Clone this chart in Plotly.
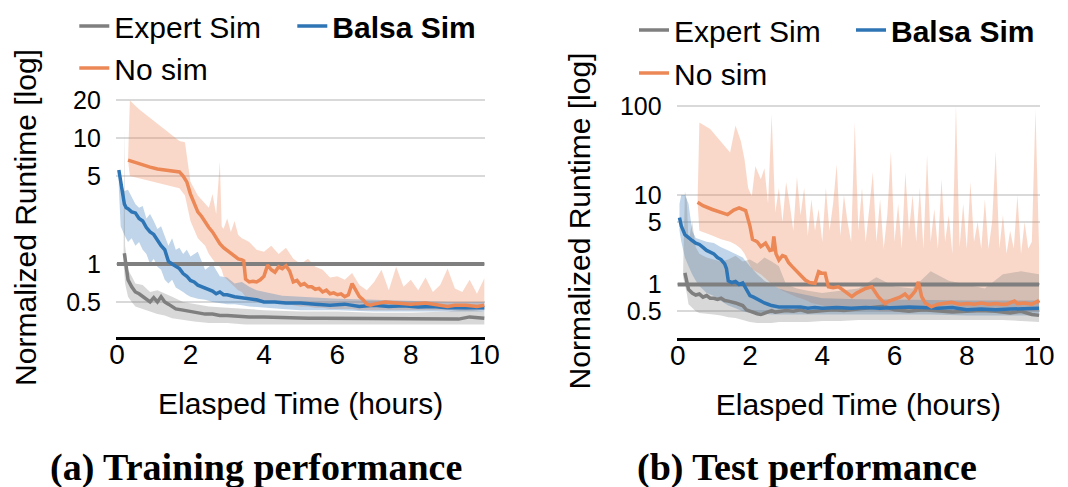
import plotly.graph_objects as go

# ---------------- data ----------------
# Left panel: training performance
L_EXP_X = [0.2, 0.25, 0.3, 0.4, 0.5, 0.6, 0.7, 0.8, 0.9, 1.0, 1.1, 1.2, 1.3, 1.4, 1.5, 1.6, 1.8, 2.0, 2.2, 2.4,
           2.6, 2.8, 3.0, 3.3, 3.6, 4.0, 4.4, 4.8, 5.2, 5.6, 6.0, 6.5, 7.0, 7.5, 8.0, 8.5, 9.0, 9.3, 9.6, 9.8, 10.0]
L_EXP_Y = [1.22, 0.95, 0.75, 0.66, 0.6, 0.58, 0.55, 0.52, 0.5, 0.54, 0.5, 0.55, 0.5, 0.48, 0.46, 0.44, 0.43, 0.42, 0.41, 0.40,
           0.40, 0.39, 0.39, 0.385, 0.38, 0.38, 0.375, 0.37, 0.37, 0.37, 0.37, 0.365, 0.37, 0.365, 0.37, 0.365, 0.37, 0.365, 0.38, 0.375, 0.37]
L_EXP_BX = [0.18, 0.2, 0.22, 0.3, 0.4, 0.5, 0.7, 0.9, 1.1, 1.3, 1.5, 1.8, 2.1, 2.5, 3.0, 3.5, 4.0, 5.0, 6.0, 7.0, 8.0, 9.0, 9.5, 10.0]
L_EXP_UP = [1.3, 12, 1.4, 0.9, 0.8, 0.7, 0.68, 0.6, 0.62, 0.58, 0.55, 0.5, 0.48, 0.46, 0.45, 0.44, 0.43, 0.42, 0.42, 0.41, 0.41, 0.42, 0.44, 0.42]
L_EXP_LO = [1.0, 1.0, 0.7, 0.55, 0.5, 0.46, 0.44, 0.42, 0.4, 0.39, 0.37, 0.36, 0.35, 0.34, 0.34, 0.33, 0.33, 0.33, 0.33, 0.33, 0.33, 0.33, 0.33, 0.33]

L_BAL_X = [0.05, 0.1, 0.15, 0.2, 0.25, 0.3, 0.4, 0.5, 0.6, 0.7, 0.8, 0.9, 1.0, 1.1, 1.2, 1.3, 1.4, 1.5, 1.6, 1.7,
           1.8, 1.9, 2.0, 2.1, 2.2, 2.3, 2.4, 2.5, 2.6, 2.7, 2.8, 2.9, 3.0, 3.2, 3.4, 3.6, 3.8, 4.0, 4.3, 4.6,
           5.0, 5.4, 5.8, 6.2, 6.6, 7.0, 7.4, 7.8, 8.2, 8.6, 9.0, 9.4, 9.7, 10.0]
L_BAL_Y = [5.6, 4.6, 3.6, 3.0, 2.8, 2.75, 2.6, 2.55, 2.3, 2.2, 1.95, 1.8, 1.72, 1.55, 1.4, 1.3, 1.05, 1.0, 0.95, 0.92,
           0.84, 0.8, 0.74, 0.72, 0.68, 0.66, 0.64, 0.62, 0.61, 0.58, 0.6, 0.57, 0.57, 0.55, 0.54, 0.53, 0.52, 0.5, 0.5, 0.49,
           0.49, 0.48, 0.47, 0.48, 0.46, 0.47, 0.46, 0.465, 0.455, 0.46, 0.45, 0.45, 0.45, 0.45]
L_BAL_BX = [0.05, 0.1, 0.2, 0.3, 0.4, 0.5, 0.6, 0.7, 0.8, 0.9, 1.0, 1.1, 1.2, 1.3, 1.4, 1.5, 1.6, 1.7, 1.8, 1.9,
            2.0, 2.2, 2.4, 2.6, 2.8, 3.0, 3.2, 3.4, 3.6, 3.8, 4.0, 4.5, 5.0, 6.0, 7.0, 8.0, 9.0, 10.0]
L_BAL_UP = [5.0, 4.6, 3.8, 3.9, 3.4, 3.0, 2.8, 2.9, 2.3, 2.5, 2.2, 1.9, 2.0, 1.7, 1.4, 1.6, 1.3, 1.35, 1.2, 1.3,
            1.15, 1.25, 0.9, 1.0, 0.8, 0.78, 0.7, 0.72, 0.66, 0.62, 0.6, 0.56, 0.55, 0.53, 0.52, 0.51, 0.5, 0.5]
L_BAL_LO = [4.0, 2.0, 1.7, 1.5, 1.6, 1.4, 1.5, 1.3, 1.2, 1.0, 1.1, 0.95, 0.9, 0.75, 0.7, 0.75, 0.65, 0.62, 0.6, 0.57,
            0.55, 0.53, 0.52, 0.5, 0.49, 0.48, 0.48, 0.47, 0.46, 0.45, 0.45, 0.44, 0.43, 0.43, 0.42, 0.42, 0.42, 0.42]

L_NOS_X = [0.3, 0.5, 0.7, 0.9, 1.1, 1.3, 1.5, 1.7, 1.8, 1.9, 2.0, 2.1, 2.2, 2.3, 2.4, 2.5, 2.6, 2.7, 2.8, 2.9,
           3.0, 3.1, 3.2, 3.3, 3.4, 3.45, 3.5, 3.6, 3.7, 3.8, 3.9, 4.0, 4.1, 4.2, 4.3, 4.4, 4.5, 4.6, 4.7, 4.8,
           4.9, 5.0, 5.1, 5.2, 5.3, 5.4, 5.5, 5.6, 5.7, 5.8, 5.9, 6.0, 6.1, 6.2, 6.3, 6.4, 6.5, 6.6, 6.7, 6.8,
           6.9, 7.0, 7.3, 7.6, 8.0, 8.4, 8.8, 9.0, 9.2, 9.5, 9.8, 10.0]
L_NOS_Y = [6.7, 6.4, 6.1, 5.9, 5.7, 5.6, 5.5, 5.4, 5.0, 4.5, 3.6, 3.0, 2.6, 2.4, 2.15, 1.95, 1.8, 1.6, 1.45, 1.35,
           1.28, 1.2, 1.14, 1.1, 1.08, 1.06, 0.76, 0.72, 0.73, 0.72, 0.75, 0.8, 0.98, 0.9, 0.86, 0.95, 0.92, 0.97, 0.88, 0.72,
           0.74, 0.68, 0.70, 0.66, 0.66, 0.63, 0.64, 0.60, 0.62, 0.58, 0.59, 0.57, 0.58, 0.55, 0.57, 0.70, 0.62, 0.55, 0.52, 0.48,
           0.47, 0.48, 0.5, 0.49, 0.48, 0.49, 0.47, 0.46, 0.47, 0.47, 0.46, 0.47]
L_NOS_BX = [0.3, 0.35, 0.6, 0.9, 1.1, 1.4, 1.7, 1.85, 2.0, 2.2, 2.4, 2.5, 2.6, 2.7, 2.8, 2.85, 2.9, 3.0, 3.1, 3.2,
            3.3, 3.4, 3.5, 3.6, 3.8, 4.0, 4.2, 4.4, 4.6, 4.8, 5.0, 5.2, 5.4, 5.6, 5.8, 6.0, 6.2, 6.4, 6.6, 6.8,
            7.0, 7.2, 7.4, 7.6, 7.8, 8.0, 8.2, 8.4, 8.6, 8.8, 9.0, 9.2, 9.4, 9.6, 9.8, 10.0]
L_NOS_UP = [6.7, 20, 17, 14.5, 13, 11, 9.5, 9.3, 4.5, 3.5, 3.0, 2.8, 3.6, 2.5, 6.5, 2.0, 1.9, 2.3, 1.8, 2.2,
            1.7, 1.6, 1.55, 1.5, 1.3, 1.25, 1.4, 1.2, 1.35, 1.1, 1.0, 1.1, 0.95, 0.9, 0.78, 0.8, 0.75, 0.85, 0.68, 0.62,
            0.72, 0.9, 0.62, 0.95, 0.66, 0.75, 0.62, 0.78, 0.6, 0.68, 0.92, 0.64, 0.6, 0.75, 0.58, 0.77]
L_NOS_LO = [6.7, 5.0, 4.8, 4.6, 4.4, 4.2, 4.0, 3.5, 2.2, 1.6, 1.4, 1.2, 1.1, 1.0, 0.95, 0.9, 0.8, 0.75, 0.7, 0.66,
            0.62, 0.6, 0.55, 0.52, 0.5, 0.5, 0.5, 0.48, 0.48, 0.47, 0.46, 0.46, 0.45, 0.45, 0.44, 0.44, 0.44, 0.44, 0.43, 0.43,
            0.43, 0.43, 0.43, 0.43, 0.43, 0.43, 0.43, 0.43, 0.43, 0.43, 0.43, 0.43, 0.43, 0.43, 0.43, 0.43]

# Right panel: test performance
R_EXP_X = [0.2, 0.25, 0.3, 0.4, 0.5, 0.6, 0.7, 0.8, 0.9, 1.0, 1.1, 1.2, 1.3, 1.4, 1.5, 1.6, 1.7, 1.8, 1.9, 2.0,
           2.1, 2.2, 2.3, 2.4, 2.5, 2.6, 2.7, 2.8, 3.0, 3.2, 3.4, 3.6, 3.8, 4.0, 4.3, 4.6, 5.0, 5.4, 5.7, 6.0,
           6.4, 6.8, 7.2, 7.6, 8.0, 8.4, 8.8, 9.2, 9.5, 9.8, 10.0]
R_EXP_Y = [1.35, 1.1, 0.88, 0.8, 0.76, 0.78, 0.72, 0.75, 0.7, 0.7, 0.68, 0.7, 0.66, 0.65, 0.64, 0.62, 0.6, 0.58, 0.52, 0.5,
           0.48, 0.47, 0.46, 0.48, 0.5, 0.51, 0.49, 0.5, 0.51, 0.5, 0.52, 0.49, 0.5, 0.5, 0.52, 0.51, 0.53, 0.55, 0.57, 0.52,
           0.5, 0.52, 0.5, 0.49, 0.5, 0.51, 0.5, 0.48, 0.5, 0.46, 0.45]
R_EXP_BX = [0.15, 0.2, 0.25, 0.3, 0.4, 0.5, 0.6, 0.8, 1.0, 1.2, 1.4, 1.6, 1.8, 2.0, 2.2, 2.4, 2.6, 2.8, 3.0, 3.3,
            3.6, 4.0, 4.5, 5.0, 5.5, 6.0, 6.5, 7.0, 7.5, 8.0, 8.5, 9.0, 9.5, 10.0]
R_EXP_UP = [1.4, 11, 9, 3, 5, 2.6, 2.2, 2.0, 1.9, 1.8, 1.9, 2.1, 1.8, 1.9, 1.7, 2.0, 1.8, 1.6, 1.0, 0.9,
            0.85, 0.8, 0.85, 0.9, 1.2, 0.95, 0.9, 1.4, 1.1, 1.0, 0.9, 1.3, 1.4, 1.3]
R_EXP_LO = [1.2, 1.0, 0.8, 0.6, 0.55, 0.5, 0.48, 0.47, 0.46, 0.45, 0.43, 0.42, 0.4, 0.38, 0.37, 0.37, 0.37, 0.38, 0.38, 0.38,
            0.38, 0.39, 0.39, 0.4, 0.4, 0.4, 0.4, 0.4, 0.4, 0.4, 0.4, 0.4, 0.39, 0.38]

R_BAL_X = [0.05, 0.1, 0.2, 0.3, 0.4, 0.5, 0.6, 0.7, 0.8, 0.9, 1.0, 1.1, 1.2, 1.3, 1.35, 1.4, 1.5, 1.6, 1.7, 1.8,
           1.9, 2.0, 2.1, 2.2, 2.3, 2.4, 2.5, 2.6, 2.8, 3.0, 3.2, 3.4, 3.6, 3.8, 4.0, 4.4, 4.8, 5.2, 5.6, 6.0,
           6.4, 6.8, 7.2, 7.6, 8.0, 8.4, 8.8, 9.2, 9.6, 10.0]
R_BAL_Y = [5.6, 4.5, 3.6, 3.3, 3.1, 2.9, 2.8, 2.6, 2.4, 2.3, 2.2, 2.0, 1.9, 1.7, 1.5, 1.1, 1.05, 1.08, 1.0, 1.04,
           0.9, 0.75, 0.72, 0.68, 0.65, 0.62, 0.6, 0.58, 0.56, 0.56, 0.55, 0.56, 0.54, 0.55, 0.54, 0.55, 0.54, 0.55, 0.54, 0.55,
           0.56, 0.55, 0.54, 0.55, 0.52, 0.53, 0.52, 0.53, 0.54, 0.54]
R_BAL_BX = [0.05, 0.1, 0.2, 0.3, 0.4, 0.5, 0.6, 0.8, 1.0, 1.2, 1.4, 1.6, 1.8, 2.0, 2.2, 2.4, 2.6, 2.8, 3.0, 3.3,
            3.6, 4.0, 5.0, 6.0, 7.0, 8.0, 9.0, 10.0]
R_BAL_UP = [8, 10, 10, 8, 4, 3.3, 3.2, 3.0, 2.9, 2.6, 2.4, 2.2, 2.0, 1.6, 1.3, 1.1, 1.0, 0.9, 0.85, 0.8,
            0.75, 0.7, 0.68, 0.68, 0.67, 0.66, 0.66, 0.66]
R_BAL_LO = [4.0, 3.0, 2.0, 1.6, 1.3, 1.1, 0.96, 0.8, 0.74, 0.65, 0.58, 0.54, 0.5, 0.48, 0.47, 0.47, 0.46, 0.46, 0.46, 0.46,
            0.46, 0.46, 0.46, 0.46, 0.46, 0.45, 0.45, 0.45]

R_NOS_X = [0.55, 0.7, 0.96, 1.2, 1.38, 1.55, 1.7, 1.88, 2.0, 2.07, 2.2, 2.3, 2.43, 2.55, 2.62, 2.66, 2.72, 2.8, 2.9, 2.98,
           3.07, 3.17, 3.26, 3.35, 3.44, 3.53, 3.65, 3.8, 3.9, 4.0, 4.08, 4.17, 4.3, 4.45, 4.55, 4.64, 4.73, 4.82, 4.95, 5.1,
           5.2, 5.37, 5.46, 5.55, 5.65, 5.74, 5.85, 6.01, 6.15, 6.29, 6.4, 6.47, 6.58, 6.66, 6.75, 6.85, 7.02, 7.2, 7.4, 7.58,
           7.8, 8.03, 8.2, 8.4, 8.6, 8.8, 8.95, 9.1, 9.32, 9.4, 9.6, 9.8, 9.96, 10.0]
R_NOS_Y = [8.3, 7.6, 6.9, 6.4, 6.05, 6.8, 7.2, 6.7, 4.5, 3.2, 3.0, 2.65, 2.9, 2.4, 2.44, 3.44, 2.2, 1.88, 2.1, 2.05,
           1.75, 1.58, 1.45, 1.33, 1.2, 1.12, 1.05, 1.03, 1.39, 1.33, 1.33, 0.94, 0.92, 0.94, 0.88, 0.83, 0.78, 0.73, 0.8, 0.86,
           0.9, 0.94, 0.82, 0.73, 0.66, 0.61, 0.65, 0.69, 0.72, 0.78, 0.7, 0.75, 0.85, 1.07, 0.73, 0.62, 0.56, 0.6, 0.62, 0.63,
           0.6, 0.61, 0.6, 0.62, 0.6, 0.61, 0.6, 0.6, 0.65, 0.61, 0.62, 0.6, 0.65, 0.62]
R_NOS_BX = [0.55, 0.6, 0.9, 1.2, 1.45, 1.6, 1.75, 1.85, 1.95, 2.05,
            2.15, 2.3, 2.4, 2.5, 2.6, 2.7, 2.8, 2.9, 3.0, 3.1,
            3.2, 3.3, 3.4, 3.5, 3.6, 3.7, 3.8, 3.9, 4.0, 4.1,
            4.2, 4.3, 4.4, 4.5, 4.6, 4.7, 4.8, 4.9, 5.0, 5.1,
            5.2, 5.3, 5.4, 5.5, 5.6, 5.7, 5.8, 5.9, 6.0, 6.1,
            6.2, 6.3, 6.4, 6.5, 6.6, 6.7, 6.8, 6.9, 7.0, 7.1,
            7.2, 7.3, 7.4, 7.5, 7.6, 7.7, 7.8, 7.9, 8.0, 8.1,
            8.2, 8.3, 8.4, 8.5, 8.6, 8.7, 8.8, 8.9, 9.0, 9.1,
            9.2, 9.3, 9.4, 9.5, 9.6, 9.7, 9.8, 9.9, 10.0]
R_NOS_UP = [8.3, 65, 55, 40, 30, 60, 40, 25, 12, 9.7,
            21, 15, 20, 8, 80, 6.4, 12, 5, 14, 7.9,
            4, 16, 6, 12, 3.5, 9, 4, 7, 3, 12,
            4, 8, 22, 3.5, 10, 5, 3, 65, 4, 12,
            3, 7, 18, 3, 9, 2.5, 6, 31, 3, 8,
            2.5, 18, 4, 10, 3, 12, 2.5, 28, 3, 7,
            2.5, 15, 3, 6, 2.2, 100, 2.6, 8, 2.5, 14,
            3, 5, 2.5, 9, 2.5, 5, 31, 2.5, 6, 2.2,
            4, 2.5, 10, 2.2, 5, 2.5, 3, 90, 2.5]
R_NOS_LO = [8.3, 4.0, 3.6, 3.2, 3.0, 2.8, 2.5, 2.2, 1.8, 1.5,
            1.4, 1.3, 1.2, 1.1, 1.0, 0.95, 0.9, 0.85, 0.8, 0.78,
            0.75, 0.72, 0.7, 0.68, 0.65, 0.62, 0.6, 0.6, 0.58, 0.57,
            0.56, 0.55, 0.55, 0.54, 0.54, 0.53, 0.53, 0.52, 0.52, 0.52,
            0.52, 0.52, 0.51, 0.51, 0.5, 0.5, 0.5, 0.5, 0.5, 0.5,
            0.5, 0.5, 0.5, 0.5, 0.5, 0.5, 0.5, 0.5, 0.5, 0.5,
            0.5, 0.5, 0.5, 0.5, 0.5, 0.5, 0.5, 0.5, 0.5, 0.5,
            0.5, 0.5, 0.5, 0.5, 0.5, 0.5, 0.5, 0.5, 0.5, 0.5,
            0.5, 0.5, 0.5, 0.5, 0.5, 0.5, 0.5, 0.5, 0.5]

REF_X = [0, 10]
REF_Y = [1, 1]

X_TICKS = [0, 2, 4, 6, 8, 10]
L_Y_TICKS = [0.5, 1, 5, 10, 20]
R_Y_TICKS = [0.5, 1, 5, 10, 100]
SERIES = ["Expert Sim", "<b>Balsa Sim</b>", "No sim"]
CAPTIONS = ["<b>(a) Training performance</b>", "<b>(b) Test performance</b>"]

# ---------------- styles ----------------
GRAY, BLUE, ORANGE = "#7f7f7f", "#2e75b6", "#ec8756"
GRAY_F, BLUE_F, ORANGE_F = "rgba(127,127,127,0.30)", "rgba(46,117,182,0.30)", "rgba(236,135,86,0.32)"
W, H = 1068, 487
SANS = "Arial"
SERIF = "Liberation Serif"

fig = go.Figure()


def band(x, up, lo, color, xa, ya):
    fig.add_trace(go.Scatter(x=list(x) + list(x)[::-1], y=list(up) + list(lo)[::-1],
                             fill="toself", fillcolor=color, mode="lines", line=dict(width=0),
                             showlegend=False, hoverinfo="skip", xaxis=xa, yaxis=ya))


def line(x, y, color, name, xa, ya, legend, width=3.5, show=True):
    fig.add_trace(go.Scatter(x=x, y=y, mode="lines", line=dict(color=color, width=width),
                             name=name, showlegend=show, legend=legend, xaxis=xa, yaxis=ya))


panels = [
    ("x", "y", "legend", "legend3",
     (L_EXP_X, L_EXP_Y, L_EXP_BX, L_EXP_UP, L_EXP_LO),
     (L_BAL_X, L_BAL_Y, L_BAL_BX, L_BAL_UP, L_BAL_LO),
     (L_NOS_X, L_NOS_Y, L_NOS_BX, L_NOS_UP, L_NOS_LO)),
    ("x2", "y2", "legend2", "legend4",
     (R_EXP_X, R_EXP_Y, R_EXP_BX, R_EXP_UP, R_EXP_LO),
     (R_BAL_X, R_BAL_Y, R_BAL_BX, R_BAL_UP, R_BAL_LO),
     (R_NOS_X, R_NOS_Y, R_NOS_BX, R_NOS_UP, R_NOS_LO)),
]

for xa, ya, lg1, lg2, exp, bal, nos in panels:
    band(nos[2], nos[3], nos[4], ORANGE_F, xa, ya)
    band(bal[2], bal[3], bal[4], BLUE_F, xa, ya)
    band(exp[2], exp[3], exp[4], GRAY_F, xa, ya)
    line(REF_X, REF_Y, GRAY, "ref", xa, ya, lg1, width=4, show=False)
    line(exp[0], exp[1], GRAY, SERIES[0], xa, ya, lg1)
    line(bal[0], bal[1], BLUE, SERIES[1], xa, ya, lg1)
    line(nos[0], nos[1], ORANGE, SERIES[2], xa, ya, lg2)


def xaxis(domain, anchor):
    return dict(domain=domain, anchor=anchor, range=[-0.03, 10.03], tickmode="array", tickvals=X_TICKS,
                ticktext=[str(v) for v in X_TICKS], showgrid=False, zeroline=False, showline=True,
                linecolor="black", linewidth=3, ticks="", ticklabelstandoff=-10,
                tickfont=dict(family=SANS, size=28, color="black"),
                title=dict(text="Elasped Time (hours)", font=dict(family=SANS, size=30, color="black"), standoff=25))


def yaxis(domain, anchor, rng, ticks):
    return dict(domain=domain, anchor=anchor, type="log", range=rng, tickmode="array", tickvals=ticks,
                ticktext=[("%g" % v) for v in ticks], showgrid=True, gridcolor="#d9d9d9", gridwidth=1.5,
                zeroline=False, showline=False, ticks="", ticklabelstandoff=14,
                tickfont=dict(family=SANS, size=25, color="black"),
                title=dict(text="Normalized Runtime [log]", font=dict(family=SANS, size=30, color="black"), standoff=20))


def legend(x_px, top_px, entrywidth=None):
    d = dict(x=x_px / W, y=1 - top_px / H, xanchor="left", yanchor="top", orientation="h",
             bgcolor="rgba(0,0,0,0)", borderwidth=0, font=dict(family=SANS, size=30, color="black"),
             itemclick=False, itemdoubleclick=False)
    if entrywidth:
        d["entrywidth"] = entrywidth
        d["entrywidthmode"] = "pixels"
    return d


fig.update_layout(
    width=W, height=H, template="none", margin=dict(l=0, r=0, t=0, b=0),
    paper_bgcolor="white", plot_bgcolor="white",
    font=dict(family=SANS, size=28, color="black"),
    xaxis=xaxis([117 / W, 490 / W], "y"),
    yaxis=yaxis([1 - 337 / H, 1 - 98 / H], "x", [-0.58, 1.32], L_Y_TICKS),
    xaxis2=xaxis([683 / W, 1050 / W], "y2"),
    yaxis2=yaxis([1 - 338 / H, 1 - 104 / H], "x2", [-0.6, 2.02], R_Y_TICKS),
    legend=legend(75, 0, 173),
    legend3=legend(75, 42),
    legend2=legend(640, 4, 172),
    legend4=legend(640, 47),
    annotations=[
        dict(text=CAPTIONS[0], x=258 / W, y=1 - 467 / H, xref="paper", yref="paper", showarrow=False,
             xanchor="center", yanchor="middle", font=dict(family=SERIF, size=38, color="black")),
        dict(text=CAPTIONS[1], x=815 / W, y=1 - 467 / H, xref="paper", yref="paper", showarrow=False,
             xanchor="center", yanchor="middle", font=dict(family=SERIF, size=38, color="black")),
    ],
)

fig.write_html("out.html")
